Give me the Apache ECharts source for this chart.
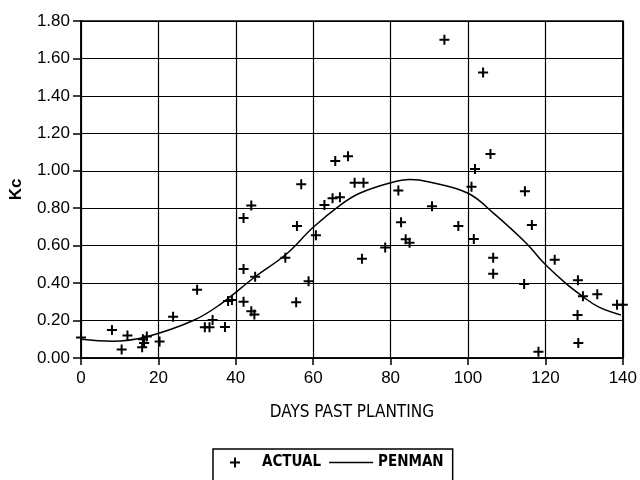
<!DOCTYPE html>
<html>
<head>
<meta charset="utf-8">
<script src="https://cdn.jsdelivr.net/npm/echarts@6/dist/echarts.min.js"></script>
<style>
html,body{margin:0;padding:0;background:#fff;}
#chart{width:640px;height:480px;}
</style>
</head>
<body>
<div id="chart"></div>
<script>
// ACTUAL measured Kc: [days past planting, Kc]
var actualDays = [0, 8, 10.5, 12, 16, 17, 16.3, 15.8, 20.3, 23.8, 30, 32, 33.2, 34, 37.2, 38, 39, 42, 42, 44, 42, 44, 44.8, 45, 52.8, 55.8, 56.9, 55.6, 58.8, 60.7, 62.9, 65, 66.9, 65.7, 69, 70.7, 73, 72.6, 78.6, 82, 82.7, 83.9, 84.9, 90.7, 93.9, 97.5, 100.9, 101.8, 101.5, 103.9, 105.8, 106.5, 106.5, 114.7, 116.5, 114.5, 118.2, 122.4, 128.4, 129.7, 133.4, 138.5, 140, 128.3, 128.5];
var actualKc   = [0.11, 0.15, 0.045, 0.12, 0.10, 0.115, 0.08, 0.057, 0.088, 0.22, 0.365, 0.164, 0.164, 0.203, 0.165, 0.305, 0.31, 0.475, 0.748, 0.815, 0.30, 0.25, 0.232, 0.434, 0.535, 0.705, 0.928, 0.298, 0.41, 0.655, 0.817, 0.853, 0.858, 1.052, 1.078, 0.936, 0.936, 0.53, 0.59, 0.895, 0.725, 0.634, 0.616, 0.81, 1.70, 0.705, 0.915, 1.01, 0.635, 1.525, 1.09, 0.535, 0.45, 0.89, 0.71, 0.395, 0.033, 0.525, 0.415, 0.33, 0.34, 0.285, 0.285, 0.23, 0.08];

// PENMAN curve
var penmanDays = [0, 8, 17, 29, 36, 45, 53, 60, 67, 72, 80, 85, 90, 100, 106.5, 115, 119.6, 125.2, 129.5, 133.7, 139.5];
var penmanKc   = [0.10, 0.09, 0.114, 0.20, 0.287, 0.434, 0.554, 0.698, 0.817, 0.88, 0.936, 0.953, 0.94, 0.88, 0.775, 0.614, 0.507, 0.40, 0.331, 0.273, 0.23];

var xTicks = [0, 20, 40, 60, 80, 100, 120, 140];
var yTicks = [0, 0.2, 0.4, 0.6, 0.8, 1.0, 1.2, 1.4, 1.6, 1.8];

var plusPath = 'path://M4,0H6V4H10V6H6V10H4V6H0V4H4Z';
var legendPlus = 'path://M0,0M44,10M21,0H23V4H27V6H23V10H21V6H17V4H21Z';
var legendLine = 'path://M0,0M44,10M0,4.25H44V5.75H0Z';
var labelFont = 'Liberation Sans, Arial, sans-serif';
var narrowFont = '"Liberation Sans Narrow", "DejaVu Sans Condensed", "Liberation Sans", sans-serif';

var chart = echarts.init(document.getElementById('chart'), null, {renderer: 'canvas'});
chart.setOption({
  animation: false,
  backgroundColor: '#fff',
  grid: {left: 80, right: 12, top: 21, bottom: 122, show: true, borderColor: '#000', borderWidth: 1.5},
  xAxis: {
    type: 'value', min: xTicks[0], max: xTicks[xTicks.length - 1], interval: 20,
    name: 'DAYS PAST PLANTING', nameLocation: 'middle', nameGap: 46,
    nameTextStyle: {fontFamily: narrowFont, fontSize: 17, color: '#000'},
    axisLine: {show: true, lineStyle: {color: '#000', width: 1.5}},
    axisTick: {show: true, length: 7, lineStyle: {color: '#000', width: 1.5}},
    axisLabel: {color: '#000', fontSize: 17, fontFamily: labelFont, margin: 12},
    splitLine: {show: true, lineStyle: {color: '#000', width: 1.2}}
  },
  yAxis: {
    type: 'value', min: yTicks[0], max: yTicks[yTicks.length - 1], interval: 0.2,
    name: 'Kc', nameLocation: 'middle', nameGap: 56, nameRotate: 90,
    nameTextStyle: {fontFamily: labelFont, fontSize: 17, color: '#000', fontWeight: 'bold'},
    axisLine: {show: true, lineStyle: {color: '#000', width: 1.5}},
    axisTick: {show: true, length: 8, lineStyle: {color: '#000', width: 1.5}},
    axisLabel: {color: '#000', fontSize: 17, fontFamily: labelFont, margin: 11,
      formatter: function (v) { return v.toFixed(2); }},
    splitLine: {show: true, lineStyle: {color: '#000', width: 1.2}}
  },
  legend: {
    left: 213, top: 449,
    padding: [6, 9, 20, 0],
    itemGap: 8, itemWidth: 44, itemHeight: 10,
    borderColor: '#000', borderWidth: 1.5,
    textStyle: {fontFamily: narrowFont, fontSize: 15, fontWeight: 'bold', color: '#000'},
    data: [
      {name: 'ACTUAL', icon: legendPlus, itemStyle: {color: '#000', borderWidth: 0}},
      {name: 'PENMAN', icon: legendLine, itemStyle: {color: '#000', borderWidth: 0}}
    ]
  },
  series: [
    {
      name: 'ACTUAL', type: 'scatter',
      symbol: plusPath, symbolSize: 10, symbolKeepAspect: true,
      itemStyle: {color: '#000', opacity: 1},
      data: actualDays.map(function (d, i) { return [d, actualKc[i]]; }),
      z: 3
    },
    {
      name: 'PENMAN', type: 'line', smooth: 0.4, symbol: 'none', showSymbol: false,
      lineStyle: {color: '#000', width: 1.5},
      itemStyle: {color: '#000'},
      data: penmanDays.map(function (d, i) { return [d, penmanKc[i]]; }),
      z: 2
    }
  ]
});
</script>
</body>
</html>
